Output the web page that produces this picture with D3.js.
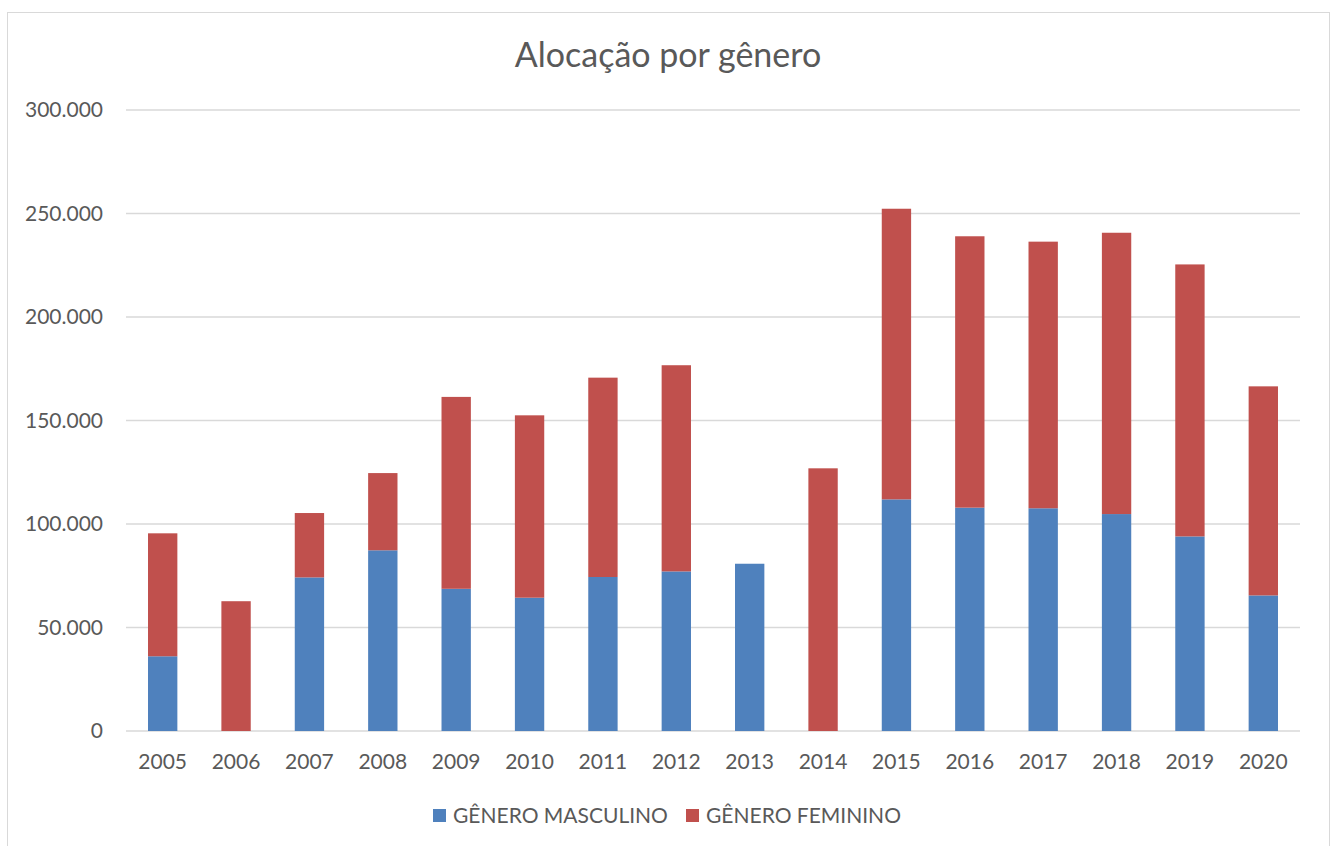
<!DOCTYPE html>
<html><head><meta charset="utf-8">
<script src="https://cdn.jsdelivr.net/npm/d3@7"></script>
<style>body{margin:0;background:#fff;}text{font-family:Lato,"Open Sans",sans-serif;}</style>
</head><body><svg id="c" width="1331" height="846"></svg>
<script>
const years = ["2005","2006","2007","2008","2009","2010","2011","2012","2013","2014","2015","2016","2017","2018","2019","2020"];
const masculino = [36100,0,74200,87300,68700,64400,74400,77100,80800,0,111900,107900,107600,104800,94000,65500];
const feminino = [59400,62700,31100,37300,92700,88100,96300,99600,0,126900,140400,131100,128800,135900,131400,101000];
const seriesNames = ["GÊNERO MASCULINO","GÊNERO FEMININO"];
const colors = ["#4f81bd","#c0504d"];
const yTicks = [0,50000,100000,150000,200000,250000,300000];

(function(){
const svg = d3.select("#c");
svg.append("rect").attr("x",7.5).attr("y",12.5).attr("width",1322).attr("height",850).attr("fill","#fff").attr("stroke","#d9d9d9").attr("stroke-width",1);

const pL=126, pR=1300, pT=110, pB=731;
const x = d3.scaleBand().domain(years).range([pL,pR]).paddingInner(0.6).paddingOuter(0.3);
const y = d3.scaleLinear().domain([0,300000]).range([pB,pT]);

const fmt = v => v===0 ? "0" : d3.format(",")(v).replace(/,/g,".");
svg.append("g").selectAll("line").data(yTicks).join("line")
  .attr("x1",pL).attr("x2",pR).attr("y1",d=>y(d)).attr("y2",d=>y(d))
  .attr("stroke","#d9d9d9").attr("stroke-width",1.3);
svg.append("g").selectAll("text").data(yTicks).join("text")
  .attr("x",103).attr("y",d=>y(d)).attr("dy","0.35em").attr("text-anchor","end")
  .attr("fill","#595959").attr("font-size",21).text(fmt);

const data = years.map((yr,i)=>({year:yr, m:masculino[i], f:feminino[i]}));
const stack = d3.stack().keys(["m","f"])(data);
svg.append("g").selectAll("g").data(stack).join("g").attr("fill",(d,i)=>colors[i])
  .selectAll("rect").data(d=>d.filter(p=>p[1]-p[0]>0)).join("rect")
  .attr("x",d=>x(d.data.year)).attr("width",x.bandwidth())
  .attr("y",d=>y(d[1])).attr("height",d=>y(d[0])-y(d[1]));

svg.append("g").selectAll("text").data(years).join("text")
  .attr("x",d=>x(d)+x.bandwidth()/2).attr("y",769).attr("text-anchor","middle")
  .attr("fill","#595959").attr("font-size",21).text(d=>d);

svg.append("text").attr("x",668).attr("y",67).attr("text-anchor","middle")
  .attr("fill","#595959").attr("font-size",34).text("Alocação por gênero");

const legX=[433,686];
seriesNames.forEach((n,i)=>{
  svg.append("rect").attr("x",legX[i]).attr("y",809).attr("width",13).attr("height",13).attr("fill",colors[i]);
  svg.append("text").attr("x",legX[i]+20).attr("y",823).attr("fill","#595959").attr("font-size",21).text(n);
});
})();
</script></body></html>
